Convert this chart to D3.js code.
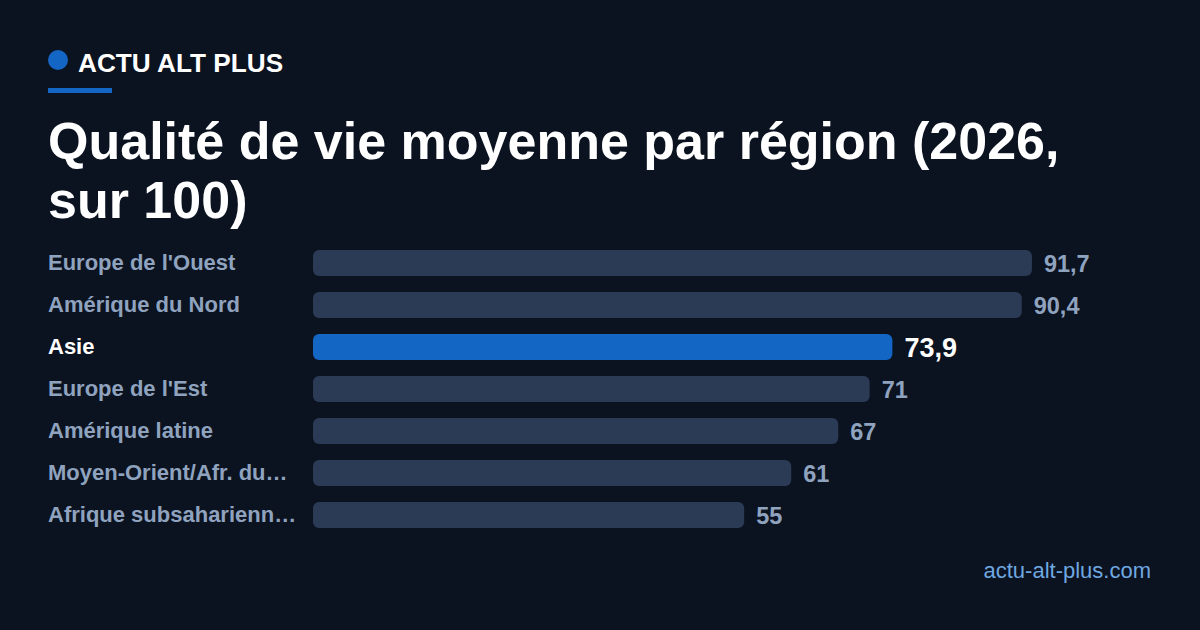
<!DOCTYPE html><html><head><meta charset="utf-8"><script src="https://cdn.jsdelivr.net/npm/d3@7"></script>
<style>body{margin:0;background:#0b1220}</style></head><body><script>
const categories=["Europe de l'Ouest","Amérique du Nord","Asie","Europe de l'Est","Amérique latine","Moyen-Orient/Afr. du…","Afrique subsaharienn…"];
const values=[91.7,90.4,73.9,71,67,61,55];
const valueLabels=["91,7","90,4","73,9","71","67","61","55"];
const highlight="Asie";
const W=1200,H=630,F="Liberation Sans, Arial, sans-serif";
const svg=d3.select("body").append("svg").attr("width",W).attr("height",H);
svg.append("rect").attr("width",W).attr("height",H).attr("fill","#0b1220");
svg.append("circle").attr("cx",58).attr("cy",60).attr("r",10).attr("fill","#1466c4");
svg.append("text").attr("x",78).attr("y",72).text("ACTU ALT PLUS").attr("fill","#fff").attr("font-family",F).attr("font-weight","bold").attr("font-size",26.2);
svg.append("rect").attr("x",48).attr("y",88).attr("width",64).attr("height",5).attr("fill","#1466c4");
["Qualité de vie moyenne par région (2026,","sur 100)"].forEach((t,i)=>svg.append("text").attr("x",48).attr("y",159+i*59).text(t).attr("fill","#fff").attr("font-family",F).attr("font-weight","bold").attr("font-size",52));
const x=d3.scaleLinear().domain([0,100]).range([313,1097]);
const y=d3.scaleBand().domain(categories).range([242,536]).paddingInner(0.38).paddingOuter(0.19);
const g=svg.selectAll("g.r").data(categories).join("g");
g.append("rect").attr("x",x(0)).attr("y",d=>y(d)).attr("height",y.bandwidth()).attr("width",(d,i)=>x(values[i])-x(0)).attr("rx",6).attr("fill",d=>d===highlight?"#1466c4":"#2c3b55");
g.append("text").attr("x",48).attr("y",d=>y(d)+y.bandwidth()/2+7).text(d=>d).attr("fill",d=>d===highlight?"#fff":"#8fa3bf").attr("font-family",F).attr("font-weight","bold").attr("font-size",22);
g.append("text").attr("x",(d,i)=>x(values[i])+12).attr("y",d=>y(d)+y.bandwidth()/2+(d===highlight?10:9)).text((d,i)=>valueLabels[i]).attr("fill",d=>d===highlight?"#fff":"#8fa3bf").attr("font-family",F).attr("font-weight","bold").attr("font-size",d=>d===highlight?27:23.5);
svg.append("text").attr("x",1151).attr("y",578).attr("text-anchor","end").text("actu-alt-plus.com").attr("fill","#6fa8e0").attr("font-family",F).attr("font-size",22);
</script></body></html>
